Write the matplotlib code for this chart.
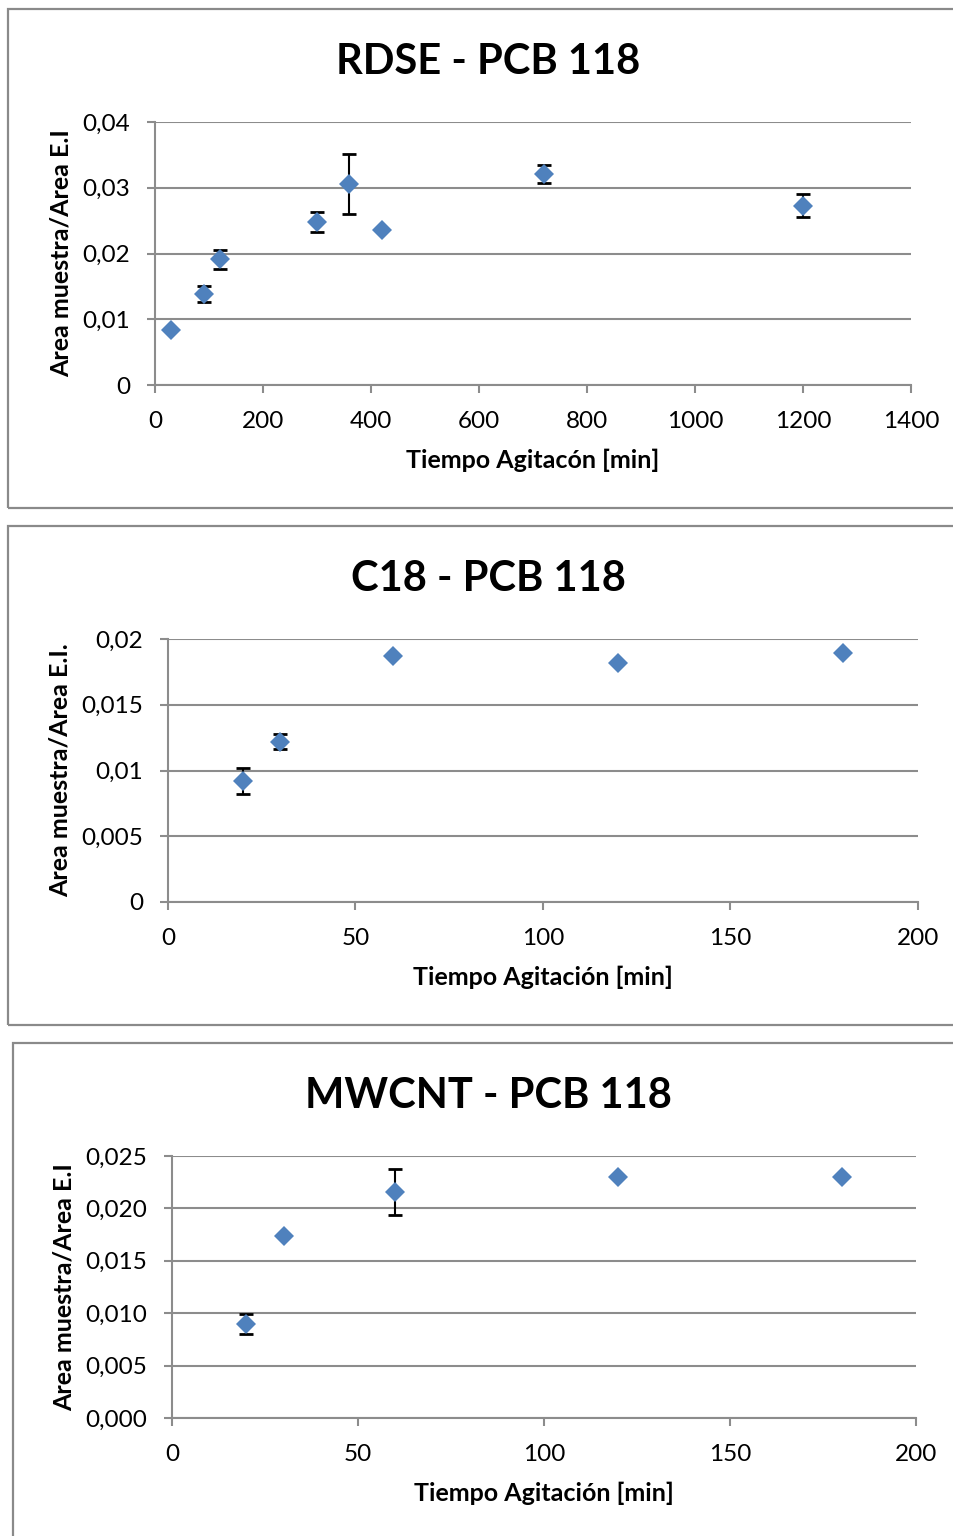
import matplotlib.pyplot as plt
from matplotlib.patches import Rectangle
from matplotlib.ticker import FuncFormatter

plt.rcParams['font.family'] = ['Lato', 'DejaVu Sans']

# RDSE - PCB 118
rdse_time = [30, 90, 120, 300, 360, 420, 720, 1200]
rdse_ratio = [0.0083, 0.0138, 0.0191, 0.0248, 0.0306, 0.0235, 0.0321, 0.0273]
rdse_err = [0.0, 0.0012, 0.0015, 0.0015, 0.0046, 0.0, 0.0014, 0.0017]

# C18 - PCB 118
c18_time = [20, 30, 60, 120, 180]
c18_ratio = [0.0092, 0.0122, 0.0187, 0.0182, 0.0189]
c18_err = [0.00097, 0.00055, 0.0, 0.0, 0.0]

# MWCNT - PCB 118
mw_time = [20, 30, 60, 120, 180]
mw_ratio = [0.0090, 0.0174, 0.0216, 0.0230, 0.0230]
mw_err = [0.00097, 0.0, 0.0022, 0.0, 0.0]

W, H = 954, 1536
BLUE = '#4F81BD'
GRID = '#8c8c8c'

fig = plt.figure(figsize=(W / 100, H / 100), dpi=100)


def px_axes(left, top, right, bottom):
    return fig.add_axes([left / W, 1 - bottom / H, (right - left) / W, (bottom - top) / H])


def frame(left, top, right, bottom):
    fig.patches.append(Rectangle((left / W, 1 - bottom / H), (right - left) / W, (bottom - top) / H,
                                 transform=fig.transFigure, fill=False, edgecolor='#8a8a8a', lw=1.6))


def comma(decimals):
    def fmt(v, pos):
        if decimals is None:
            if abs(v) < 1e-12:
                return '0'
            s = ('%.3f' % v).rstrip('0')
        else:
            s = '%.*f' % (decimals, v)
        return s.replace('.', ',')
    return FuncFormatter(fmt)


def panel(box, ax_px, title_y, title, xlabel, ylabel, x, y, err, xmax, xstep, ymax, ystep, ydec):
    frame(*box)
    ax = px_axes(*ax_px)
    ax.errorbar(x, y, yerr=err, fmt='none', ecolor='black', elinewidth=1.5, capsize=5, capthick=2, zorder=3)
    ax.plot(x, y, 'D', color=BLUE, markersize=10.5, markeredgewidth=0, zorder=4)
    ax.set_xlim(0, xmax)
    ax.set_ylim(0, ymax)
    n_y = int(round(ymax / ystep))
    n_x = int(round(xmax / xstep))
    ax.set_yticks([i * ystep for i in range(n_y + 1)])
    ax.set_xticks([i * xstep for i in range(n_x + 1)])
    ax.yaxis.set_major_formatter(comma(ydec))
    ax.grid(axis='y', color=GRID, lw=1.5)
    ax.set_axisbelow(True)
    for s in ['top', 'right']:
        ax.spines[s].set_visible(False)
    for s in ['left', 'bottom']:
        ax.spines[s].set_color(GRID)
        ax.spines[s].set_linewidth(1.5)
    ax.tick_params(axis='both', direction='out', length=6, width=1.5, color=GRID,
                   labelsize=17.5, labelcolor='black')
    ax.tick_params(axis='y', pad=12)
    ax.tick_params(axis='x', pad=13)
    fig.text(488 / W, 1 - title_y / H, title, fontsize=30, fontweight='bold',
             ha='center', va='center')
    ax.set_xlabel(xlabel, fontsize=18, fontweight='bold', labelpad=12)
    ax.set_ylabel(ylabel, fontsize=18, fontweight='bold', labelpad=7)
    return ax


panel((8, 9, 960, 508), (155, 122, 911, 385), 62, 'RDSE - PCB 118', 'Tiempo Agitacón [min]',
      'Area muestra/Area E.I', rdse_time, rdse_ratio, rdse_err, 1400, 200, 0.04, 0.01, None)
panel((8, 526, 960, 1025), (168, 639, 918, 902), 579, 'C18 - PCB 118', 'Tiempo Agitación [min]',
      'Area muestra/Area E.I.', c18_time, c18_ratio, c18_err, 200, 50, 0.02, 0.005, None)
panel((13, 1043, 960, 1545), (172, 1156, 916, 1418), 1096, 'MWCNT - PCB 118', 'Tiempo Agitación [min]',
      'Area muestra/Area E.I', mw_time, mw_ratio, mw_err, 200, 50, 0.025, 0.005, 3)

fig.savefig('out.png', dpi=100)
